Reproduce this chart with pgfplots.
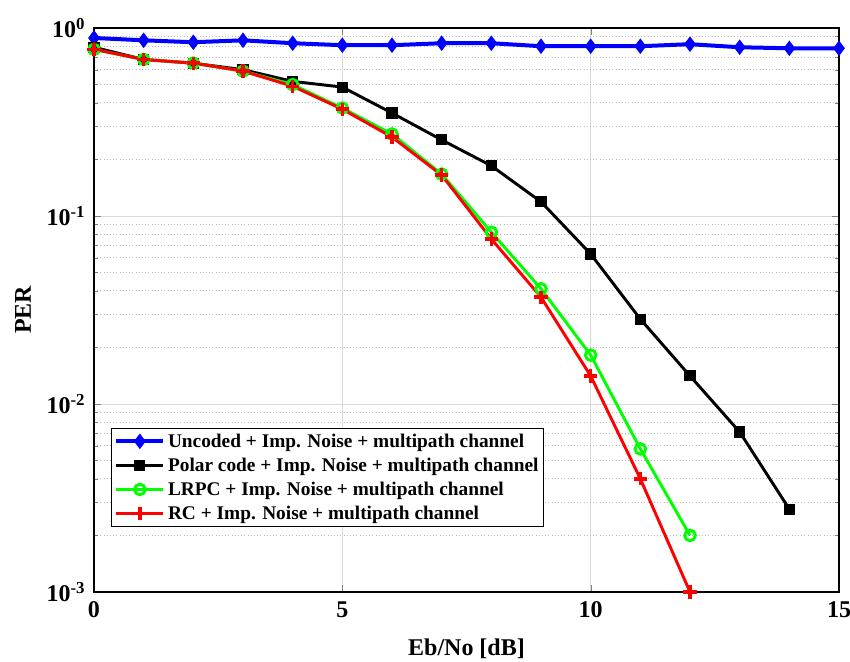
\documentclass[border=0pt]{standalone}
\usepackage{pgfplots}
\pgfplotsset{compat=1.18}
\usepackage{fontspec}
\setmainfont{Liberation Serif}
\begin{document}
\begin{tikzpicture}
\begin{semilogyaxis}[
  scale only axis,
  width=558.75pt, height=423pt,
  xmin=0, xmax=15, ymin=1e-3, ymax=1,
  xtick={0,5,10,15},
  ytick={1e-3,1e-2,1e-1,1},
  yticklabels={10\textsuperscript{-3},10\textsuperscript{-2},10\textsuperscript{-1},10\textsuperscript{0}},
  /pgf/number format/assume math mode=true,
  tick label style={font=\fontsize{18}{20}\selectfont\bfseries, black},
  xticklabel style={yshift=-3.5pt},
  yticklabel style={xshift=-3pt},
  label style={font=\fontsize{18}{20}\selectfont\bfseries},
  xlabel={Eb/No [dB]}, ylabel={PER},
  xlabel style={yshift=-9pt},
  ylabel style={yshift=5pt},
  tick align=inside,
  major tick length=5pt, minor tick length=3pt,
  grid=both,
  major grid style={gray!30, line width=0.6pt},
  minor grid style={gray!55, dotted, line width=0.6pt},
  minor x tick num=0,
  axis line style={black, line width=0.8pt},
  legend style={at={(0.023,0.115)}, anchor=south west, font=\fontsize{14.5}{16}\selectfont\bfseries, draw=black, line width=0.8pt, inner sep=2pt, row sep=2.5pt},
  legend cell align=left,
  legend image code/.code={\draw[#1, mark repeat=2, mark phase=2] plot coordinates {(0cm,0cm) (0.62cm,0cm) (1.24cm,0cm)};},
]
\addplot[blue, line width=3pt, mark=diamond*, mark size=4.2pt, mark options={fill=blue, line width=2pt}] coordinates {
(0,0.885)(1,0.86)(2,0.84)(3,0.86)(4,0.83)(5,0.81)(6,0.81)(7,0.83)(8,0.83)(9,0.80)(10,0.80)(11,0.80)(12,0.82)(13,0.79)(14,0.78)(15,0.78)};
\addlegendentry{Uncoded + Imp. Noise + multipath channel}
\addplot[black, line width=2.2pt, mark=square*, mark size=3.4pt, mark options={fill=black, line width=1.5pt}] coordinates {
(0,0.79)(1,0.68)(2,0.65)(3,0.60)(4,0.52)(5,0.485)(6,0.353)(7,0.254)(8,0.185)(9,0.119)(10,0.0628)(11,0.0283)(12,0.0141)(13,0.0071)(14,0.00276)};
\addlegendentry{Polar code + Imp. Noise + multipath channel}
\addplot[green, line width=2.2pt, mark=o, mark size=4pt, mark options={fill=white, line width=2.2pt}] coordinates {
(0,0.77)(1,0.68)(2,0.65)(3,0.59)(4,0.50)(5,0.375)(6,0.273)(7,0.167)(8,0.082)(9,0.041)(10,0.0182)(11,0.00577)(12,0.002)};
\addlegendentry{LRPC + Imp. Noise + multipath channel}
\addplot[red, line width=2.2pt, mark=+, mark size=5pt, mark options={line width=2.6pt}] coordinates {
(0,0.77)(1,0.68)(2,0.65)(3,0.59)(4,0.49)(5,0.37)(6,0.263)(7,0.165)(8,0.0755)(9,0.037)(10,0.0141)(11,0.004)(12,0.001)};
\addlegendentry{RC + Imp. Noise + multipath channel}
\end{semilogyaxis}
\pgfresetboundingbox
\path ([shift={(-70.5pt,-52.5pt)}]current axis.south west) rectangle ([shift={(8.25pt,21pt)}]current axis.north east);
\end{tikzpicture}
\end{document}
